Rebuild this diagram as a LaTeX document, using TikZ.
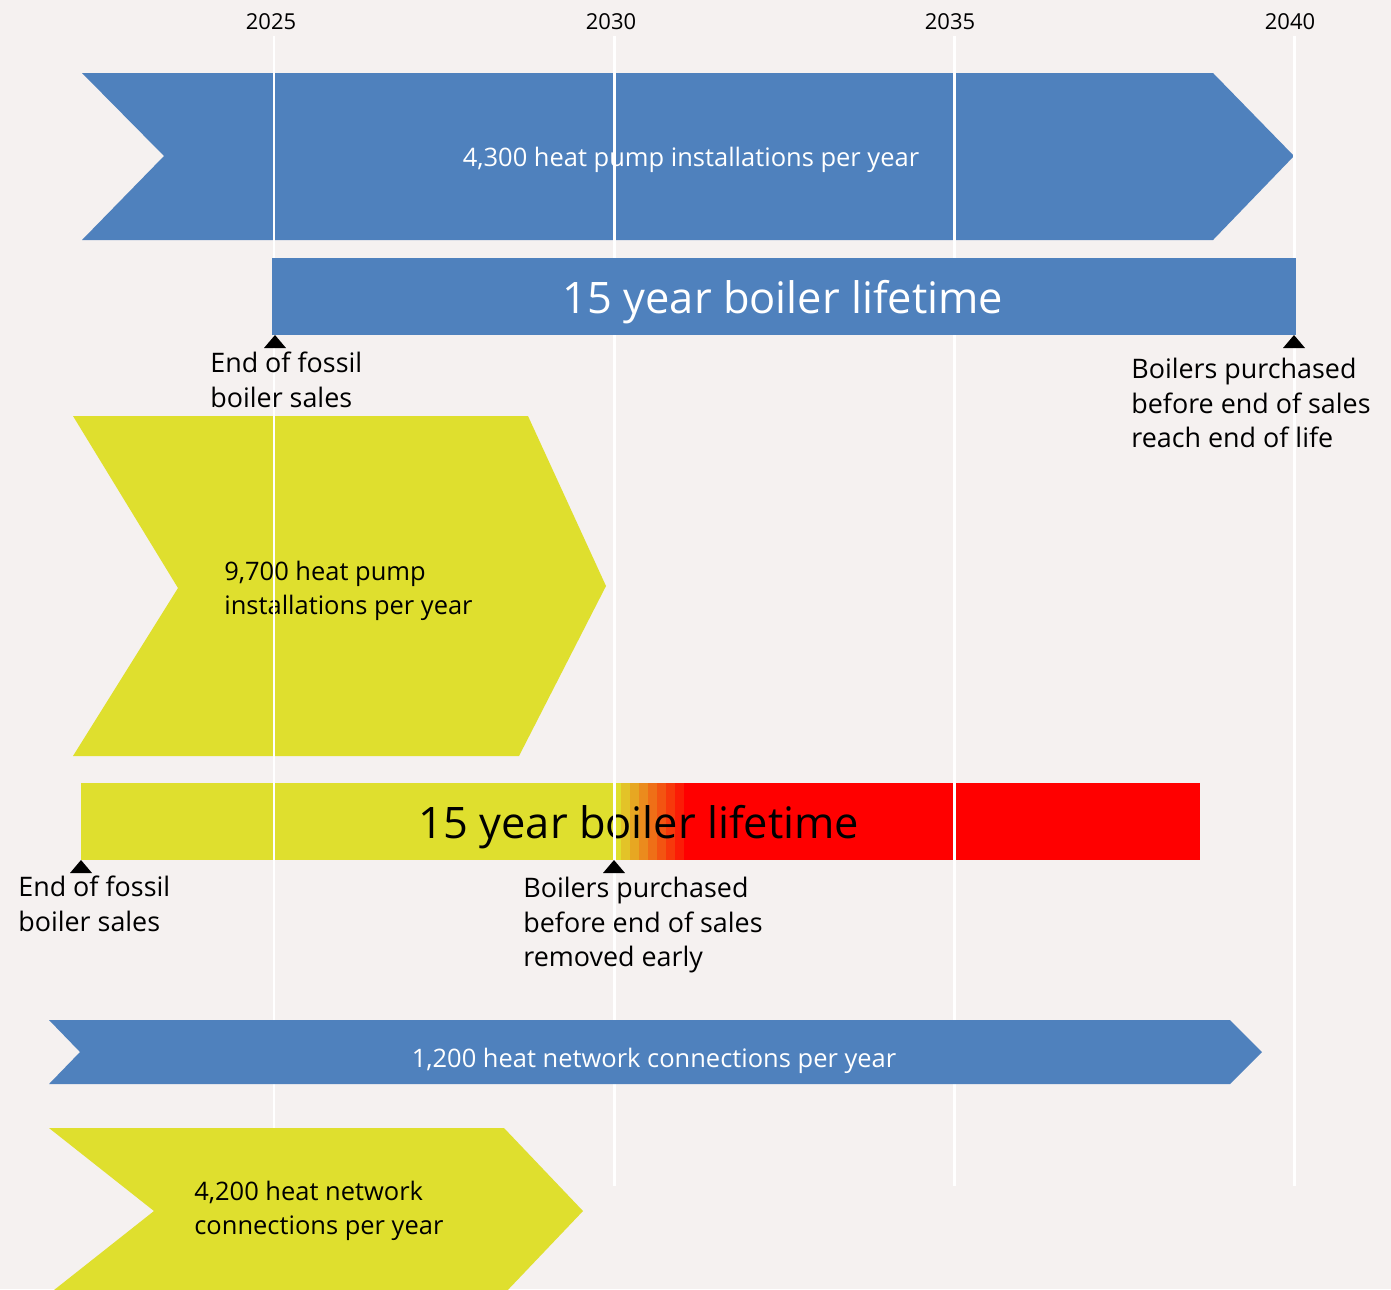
\documentclass[tikz,border=0pt]{standalone}
\usepackage{fontspec}
\setmainfont{Open Sans}
\usepackage{tikz}
\usetikzlibrary{positioning,calc}

\definecolor{bgcol}{RGB}{245,241,240}
\definecolor{planblue}{RGB}{79,129,189}
\definecolor{planyellow}{RGB}{223,223,46}

\begin{document}
\begin{tikzpicture}[x=0.02cm, y=-0.02cm,
  yearlabel/.style={inner sep=0pt, font=\fontsize{12.5}{15}\selectfont},
  midtext/.style={inner sep=0pt, text=white, font=\fontsize{14.5}{18}\selectfont},
  bigtext/.style={inner sep=0pt, font=\fontsize{24.7}{30}\selectfont},
  note/.style={inner sep=0pt, align=left, anchor=west, font=\fontsize{15.3}{19.8}\selectfont},
  yearline/.style={draw=white, line width=1.7pt},
  marker/.style={fill=black}]
% Background
\fill[bgcol] (0,0) rectangle (1391,1289);
\useasboundingbox (0,0) rectangle (1391,1289);

% Year labels
\node[yearlabel] (y2025) at (271,22) {2025};
\node[yearlabel] (y2030) at (611,22) {2030};
\node[yearlabel] (y2035) at (950,22) {2035};
\node[yearlabel] (y2040) at (1290,22) {2040};

% Blue chevron: heat pumps
\fill[planblue] (82,73) -- (1213,73) -- (1294,156) -- (1213,240) -- (82,240) -- (164,156) -- cycle;
\node[midtext] (hpblue) at (691,160) {4,300 heat pump installations per year};

% Yellow chevron: heat pumps
\fill[planyellow] (73,416) -- (528,416) -- (606,586) -- (519,756) -- (73,756) -- (178,588) -- cycle;
\node[note, font=\fontsize{14.5}{19.5}\selectfont] (hpyellow) at (224,591) {9,700 heat pump\\installations per year};

% Yellow to red lifetime bar
\fill[planyellow] (81,783) rectangle (621,860);
\foreach \i in {1,...,7} {
  \pgfmathsetmacro{\p}{100*\i/8}
  \fill[red!\p!planyellow] ({621+9*(\i-1)},783) rectangle ({621+9*\i+0.5},860);
}
\fill[red] (684,783) rectangle (1200,860);
\node[bigtext] (lifeyellow) at (639,827) {15 year boiler lifetime};

% Year lines
\foreach \x/\y in {274/y2025, 614/y2030, 954/y2035, 1294/y2040} {
  \draw[yearline] (\x,36) -- (\x,1186);
}

% Blue lifetime bar
\fill[planblue] (272,258) rectangle (1296,335);
\node[bigtext, text=white] (lifeblue) at (783,302) {15 year boiler lifetime};

% Markers
\coordinate (m1) at (275,335);
\coordinate (m2) at (1294,335);
\coordinate (m3) at (81,860);
\coordinate (m4) at (614,860);
\foreach \m in {m1,m2,m3,m4} {
  \fill[marker] (\m) -- ++(11,13) -- ++(-22,0) -- cycle;
}

% Notes
\node[note] (endblue) at (210,380) {End of fossil\\boiler sales};
\node[note] (reachlife) at (1131,403) {Boilers purchased\\before end of sales\\reach end of life};
\node[note] (endyellow) at (18,904) {End of fossil\\boiler sales};
\node[note] (removed) at (523,925) {Boilers purchased\\before end of sales\\removed early};

% Blue chevron: heat networks
\fill[planblue] (49,1020) -- (1230,1020) -- (1262,1052) -- (1230,1084) -- (49,1084) -- (80,1052) -- cycle;
\node[midtext] (hnblue) at (654,1061) {1,200 heat network connections per year};

% Yellow chevron: heat networks
\fill[planyellow] (49,1128) -- (504,1128) -- (583,1211) -- (504,1294) -- (49,1294) -- (154,1211) -- cycle;
\node[note, font=\fontsize{14.5}{19.5}\selectfont] (hnyellow) at (194,1211) {4,200 heat network\\connections per year};
\end{tikzpicture}
\end{document}
